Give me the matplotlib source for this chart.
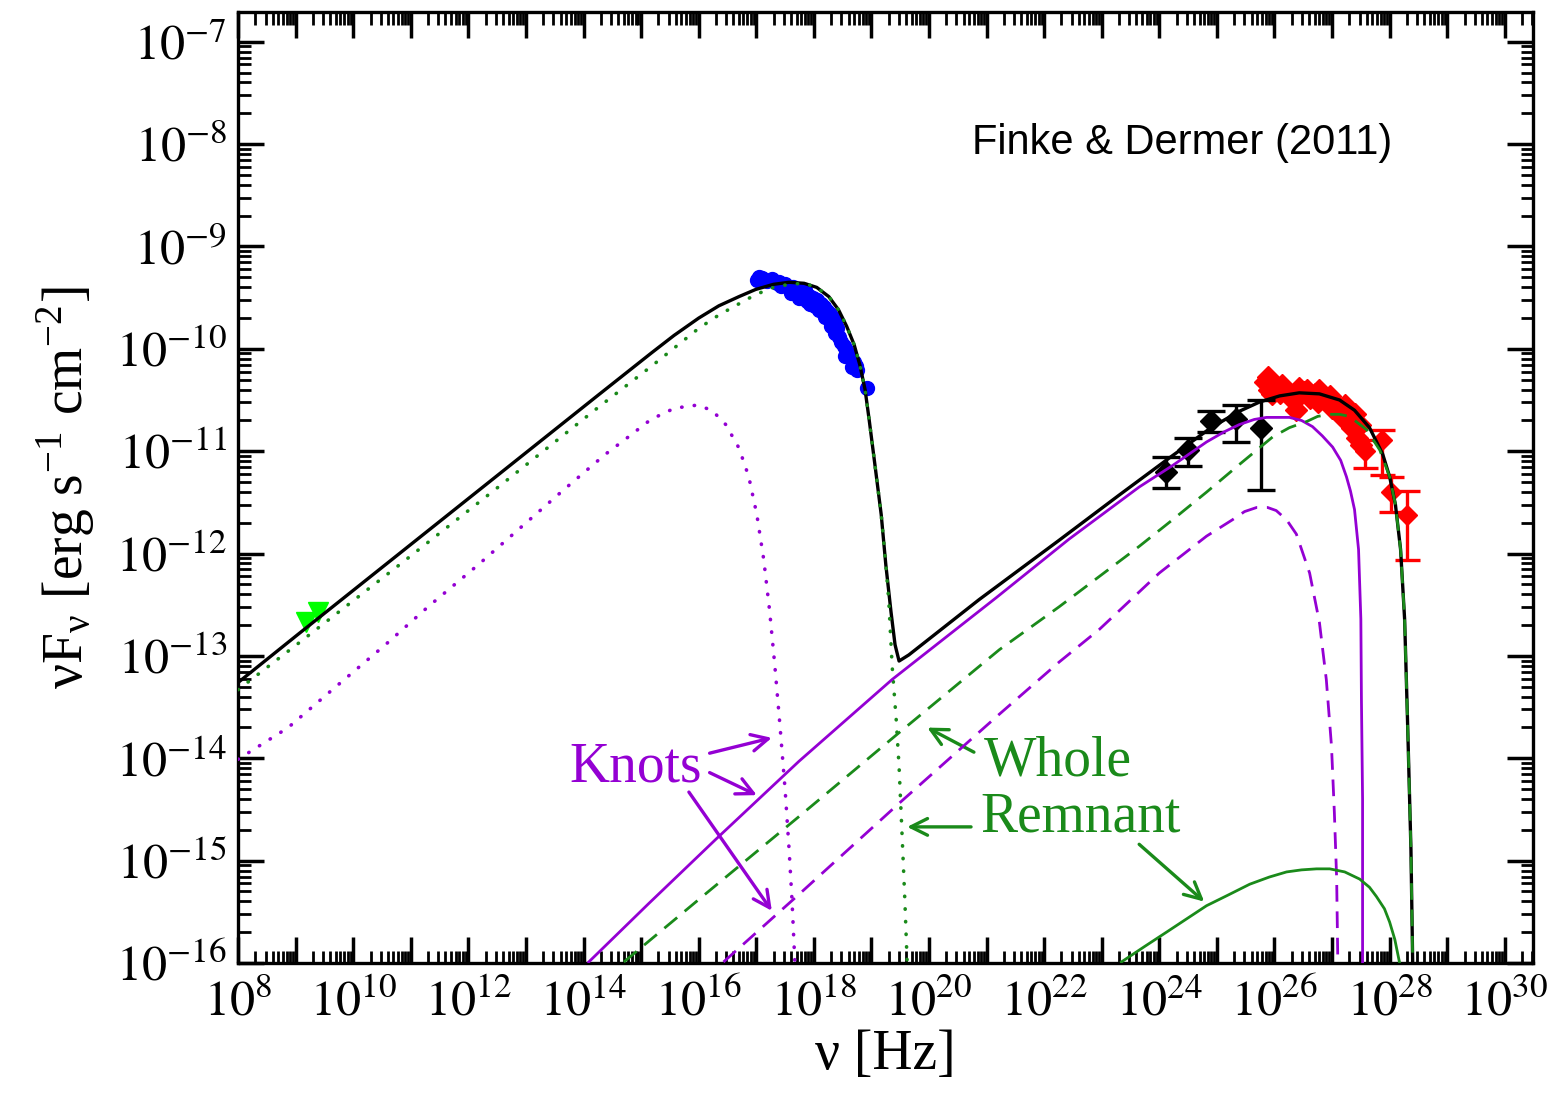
import numpy as np
import matplotlib
matplotlib.use('Agg')
import matplotlib.pyplot as plt
import matplotlib.ticker as ticker

plt.rcParams['font.family'] = 'serif'
plt.rcParams['font.serif'] = ['Liberation Serif', 'DejaVu Serif']
plt.rcParams['mathtext.fontset'] = 'stix'

# all values are log10(nu [Hz]) and log10(nuFnu [erg s^-1 cm^-2])
total_x = [8.00, 9.04, 10.78, 12.52, 14.26, 15.18, 15.57, 16.00, 16.35, 16.70, 16.99, 17.30, 17.57, 17.83,
           18.05, 18.26, 18.43, 18.57, 18.70, 18.80, 18.89, 18.96, 19.06, 19.17, 19.25, 19.34, 19.41, 19.48,
           19.65, 20.87, 22.26, 23.30, 24.14, 24.90, 25.39, 25.74, 26.09, 26.43, 26.78, 27.13, 27.39, 27.65,
           27.88, 28.00, 28.10, 28.19, 28.26, 28.31, 28.37, 28.40]
total_y = [-13.26, -12.79, -12.01, -11.23, -10.45, -10.04, -9.87, -9.70, -9.58, -9.49, -9.42, -9.37, -9.35, -9.36,
           -9.40, -9.49, -9.62, -9.78, -9.96, -10.16, -10.40, -10.69, -11.13, -11.62, -12.11, -12.57, -12.89, -13.05,
           -12.99, -12.45, -11.87, -11.43, -11.08, -10.77, -10.61, -10.52, -10.46, -10.43, -10.44, -10.50, -10.60, -10.77,
           -11.03, -11.25, -11.52, -11.96, -12.64, -13.62, -14.89, -15.99]

whole_syn_x = [8.00, 9.04, 10.78, 12.52, 14.26, 15.18, 16.00, 16.35, 16.70, 16.99, 17.30, 17.57, 17.83, 18.05,
               18.26, 18.43, 18.57, 18.70, 18.80, 18.89, 18.96, 19.06, 19.17, 19.25, 19.30, 19.36, 19.43, 19.48,
               19.53, 19.58, 19.62]
whole_syn_y = [-13.33, -12.88, -12.12, -11.35, -10.57, -10.17, -9.80, -9.67, -9.56, -9.47, -9.40, -9.37, -9.36, -9.40,
               -9.49, -9.62, -9.78, -9.96, -10.16, -10.40, -10.69, -11.13, -11.62, -12.11, -12.45, -13.10, -13.62, -14.08,
               -14.72, -15.38, -15.99]

knots_syn_x = [8.00, 8.87, 9.70, 10.56, 11.30, 12.17, 12.92, 13.65, 14.38, 14.78, 15.17, 15.58, 15.97, 16.23,
               16.47, 16.70, 16.87, 17.01, 17.13, 17.23, 17.32, 17.41, 17.50, 17.57, 17.62, 17.67]
knots_syn_y = [-14.01, -13.70, -13.30, -12.89, -12.52, -12.11, -11.74, -11.38, -11.03, -10.86, -10.69, -10.58, -10.55, -10.60,
               -10.74, -10.97, -11.25, -11.62, -12.06, -12.55, -13.08, -13.67, -14.30, -14.89, -15.38, -15.99]

knots_ic_x = [14.09, 15.13, 16.30, 17.74, 19.36, 21.17, 22.43, 23.65, 24.23, 24.82, 25.13, 25.39, 25.65, 25.86,
              26.26, 26.47, 26.66, 26.83, 27.01, 27.15, 27.25, 27.32, 27.39, 27.46, 27.50, 27.51, 27.53, 27.53]
knots_ic_y = [-15.99, -15.42, -14.79, -14.03, -13.23, -12.43, -11.86, -11.35, -11.14, -10.91, -10.81, -10.74, -10.69, -10.67,
              -10.67, -10.70, -10.76, -10.85, -10.96, -11.09, -11.25, -11.39, -11.57, -11.96, -12.64, -13.42, -14.40, -15.99]

whole_ic_x = [14.70, 16.00, 17.74, 19.48, 21.22, 22.26, 23.65, 24.23, 24.82, 25.39, 25.97, 26.26, 26.56, 26.75,
              26.96, 27.13, 27.30, 27.60, 27.83, 28.00, 28.10, 28.19, 28.26, 28.31, 28.37, 28.40]
whole_ic_y = [-15.99, -15.38, -14.57, -13.75, -12.94, -12.52, -11.93, -11.67, -11.40, -11.13, -10.86, -10.77, -10.71, -10.66,
              -10.64, -10.64, -10.66, -10.79, -10.99, -11.25, -11.52, -11.96, -12.64, -13.62, -14.89, -15.99]

knots_rem_x = [16.43, 17.74, 19.48, 21.22, 22.26, 22.96, 24.00, 24.82, 25.27, 25.48, 25.69, 25.88, 26.03, 26.21,
               26.38, 26.61, 26.78, 26.90, 26.99, 27.04, 27.08, 27.10]
knots_rem_y = [-15.99, -15.33, -14.44, -13.57, -13.06, -12.74, -12.19, -11.83, -11.67, -11.59, -11.55, -11.55, -11.58, -11.67,
               -11.81, -12.19, -12.67, -13.23, -13.88, -14.53, -15.18, -15.99]

remnant_x = [23.34, 23.74, 24.12, 24.47, 24.82, 25.18, 25.57, 25.91, 26.21, 26.47, 26.73, 26.96, 27.22, 27.48,
             27.65, 27.77, 27.91, 28.00, 28.09, 28.17]
remnant_y = [-15.99, -15.84, -15.70, -15.57, -15.44, -15.34, -15.23, -15.16, -15.11, -15.09, -15.08, -15.08, -15.11, -15.18,
             -15.26, -15.35, -15.47, -15.60, -15.77, -15.99]

# radio (green triangles)
radio_x = [9.18, 9.39]
radio_y = [-12.67, -12.57]

# X-ray (blue circles)
xray_x = [17.01, 17.10, 17.18, 17.27, 17.36, 17.43, 17.50, 17.57, 17.63, 17.70, 17.77, 17.84, 17.91, 17.98,
          18.05, 18.12, 18.17, 18.23, 18.28, 18.33, 18.37, 18.40, 18.37, 18.43, 18.47, 18.52, 18.56, 18.61,
          18.64, 18.70, 18.73, 18.75, 18.92, 17.74, 17.94, 18.09, 18.19, 18.30, 18.54, 18.66, 17.05, 17.40,
          17.60, 17.88, 18.02]
xray_y = [-9.33, -9.31, -9.34, -9.32, -9.36, -9.39, -9.37, -9.41, -9.40, -9.43, -9.45, -9.43, -9.48, -9.50,
          -9.52, -9.56, -9.59, -9.63, -9.66, -9.70, -9.75, -9.80, -9.85, -9.88, -9.93, -9.97, -10.01, -10.06,
          -10.09, -10.13, -10.17, -10.21, -10.38, -9.50, -9.56, -9.62, -9.69, -9.78, -10.07, -10.18, -9.30, -9.35,
          -9.45, -9.53, -9.58]

# Fermi (black diamonds with errors)
fermi_x = [24.12, 24.49, 24.90, 25.34, 25.77]
fermi_y = [-11.20, -10.99, -10.71, -10.69, -10.77]
fermi_lo = [-11.36, -11.14, -10.81, -10.91, -11.38]
fermi_hi = [-11.06, -10.87, -10.61, -10.55, -10.50]

# VHE (red diamonds)
vhe_x = [25.83, 25.91, 26.00, 26.09, 26.17, 26.26, 26.35, 26.43, 26.52, 26.61, 26.70, 26.78, 26.87, 26.96,
         27.04, 27.13, 27.18, 27.22, 27.30, 27.34, 27.39, 27.44, 27.48, 27.51, 25.88, 26.38, 26.75, 25.95,
         26.13, 26.56, 27.00, 27.26]
vhe_y = [-10.32, -10.40, -10.34, -10.43, -10.38, -10.46, -10.50, -10.38, -10.42, -10.48, -10.44, -10.40, -10.50, -10.46,
         -10.52, -10.60, -10.67, -10.55, -10.69, -10.77, -10.64, -10.87, -10.74, -10.94, -10.28, -10.60, -10.52, -10.44,
         -10.35, -10.40, -10.58, -10.62]
vhe_err_x = [27.57, 27.86, 28.03, 28.30]
vhe_err_y = [-11.00, -10.89, -11.40, -11.62]
vhe_err_lo = [-11.16, -11.23, -11.59, -12.06]
vhe_err_hi = [-10.89, -10.79, -11.25, -11.39]

purple = '#9400D3'
green = '#1a8a1a'

p = lambda v: np.power(10.0, np.array(v))

fig = plt.figure(figsize=(15.6, 11.02), dpi=100)
ax = fig.add_axes([0.1526, 0.1261, 0.8301, 0.8630])
ax.set_xscale('log')
ax.set_yscale('log')

# data
ax.plot(p(radio_x), p(radio_y), linestyle='none', marker='v', ms=15, color='#00ff00', zorder=2)
ax.plot(p(xray_x), p(xray_y), linestyle='none', marker='o', ms=10, color='#0000ff', zorder=2)
ax.plot(p(vhe_x), p(vhe_y), linestyle='none', marker='D', ms=11, color='#ff0000', zorder=2)
ey = p(vhe_err_y)
ax.errorbar(p(vhe_err_x), ey, yerr=[ey - p(vhe_err_lo), p(vhe_err_hi) - ey], fmt='D', ms=10,
            color='#ff0000', elinewidth=2.4, capsize=9, capthick=2.4, zorder=2)
fy = p(fermi_y)
ax.errorbar(p(fermi_x), fy, yerr=[fy - p(fermi_lo), p(fermi_hi) - fy], fmt='D', ms=11,
            color='black', elinewidth=2.4, capsize=10, capthick=2.4, zorder=2)

# model curves
dots = (0, (0.1, 3.4))
dash = (0, (6, 3.5))
ax.plot(p(total_x), p(total_y), color='black', lw=2.4, zorder=3)
ax.plot(p(whole_syn_x), p(whole_syn_y), color=green, lw=2.6, linestyle=dots, dash_capstyle='round', zorder=4)
ax.plot(p(knots_syn_x), p(knots_syn_y), color=purple, lw=2.6, linestyle=dots, dash_capstyle='round', zorder=4)
ax.plot(p(knots_ic_x), p(knots_ic_y), color=purple, lw=2.0, zorder=4)
ax.plot(p(whole_ic_x), p(whole_ic_y), color=green, lw=2.0, linestyle=dash, zorder=4)
ax.plot(p(knots_rem_x), p(knots_rem_y), color=purple, lw=2.0, linestyle=dash, zorder=4)
ax.plot(p(remnant_x), p(remnant_y), color=green, lw=2.0, zorder=4)

# labels and arrows
ax.text(p(14.90), p(-14.09), 'Knots', color=purple, fontsize=40, ha='center', va='center')
ax.text(p(20.96), p(-14.03), 'Whole', color=green, fontsize=40, ha='left', va='center')
ax.text(p(20.90), p(-14.58), 'Remnant', color=green, fontsize=40, ha='left', va='center')
arw = dict(arrowstyle='->', lw=2.4, mutation_scale=30, shrinkA=0, shrinkB=0)
for (sx, sy, ex, ey2, c) in [(16.19, -13.95, 17.27, -13.80, purple),
                             (16.19, -14.14, 17.01, -14.36, purple),
                             (15.83, -14.33, 17.27, -15.49, purple),
                             (20.78, -13.94, 19.97, -13.70, green),
                             (20.73, -14.67, 19.62, -14.67, green),
                             (23.65, -14.84, 24.78, -15.40, green)]:
    ax.annotate('', xy=(p(ex), p(ey2)), xytext=(p(sx), p(sy)), arrowprops=dict(arw, color=c))

ax.text(0.729, 0.862, 'Finke & Dermer (2011)', transform=ax.transAxes, fontsize=30,
        family='Liberation Sans', ha='center', va='center')

ax.set_xlim(1e8, p(30.49))
ax.set_ylim(1e-16, p(-6.71))

ax.xaxis.set_major_locator(ticker.LogLocator(base=10, numticks=40))
ax.xaxis.set_minor_locator(ticker.LogLocator(base=10, subs=np.arange(2, 10), numticks=40))
ax.yaxis.set_major_locator(ticker.LogLocator(base=10, numticks=20))
ax.yaxis.set_minor_locator(ticker.LogLocator(base=10, subs=np.arange(2, 10), numticks=20))


def xfmt(v, pos):
    e = int(round(np.log10(v)))
    return r'$10^{%d}$' % e if e % 2 == 0 else ''


def yfmt(v, pos):
    e = int(round(np.log10(v)))
    return r'$10^{%d}$' % e


ax.xaxis.set_major_formatter(ticker.FuncFormatter(xfmt))
ax.yaxis.set_major_formatter(ticker.FuncFormatter(yfmt))
ax.xaxis.set_minor_formatter(ticker.NullFormatter())
ax.yaxis.set_minor_formatter(ticker.NullFormatter())

ax.tick_params(which='both', direction='in', top=True, right=True, labelsize=36)
ax.tick_params(which='major', length=19, width=2.5)
ax.tick_params(which='minor', length=9, width=2)
ax.tick_params(axis='x', pad=12)
ax.tick_params(axis='y', pad=8)
for s in ax.spines.values():
    s.set_linewidth(2.4)

ax.set_xlabel('ν [Hz]', fontsize=40, labelpad=2)
ax.set_ylabel(r'νF$_{\mathregular{ν}}$ [erg s$^{\mathregular{-1}}$ cm$^{\mathregular{-2}}$]', fontsize=40, labelpad=14)

fig.savefig('out.png', dpi=100)
